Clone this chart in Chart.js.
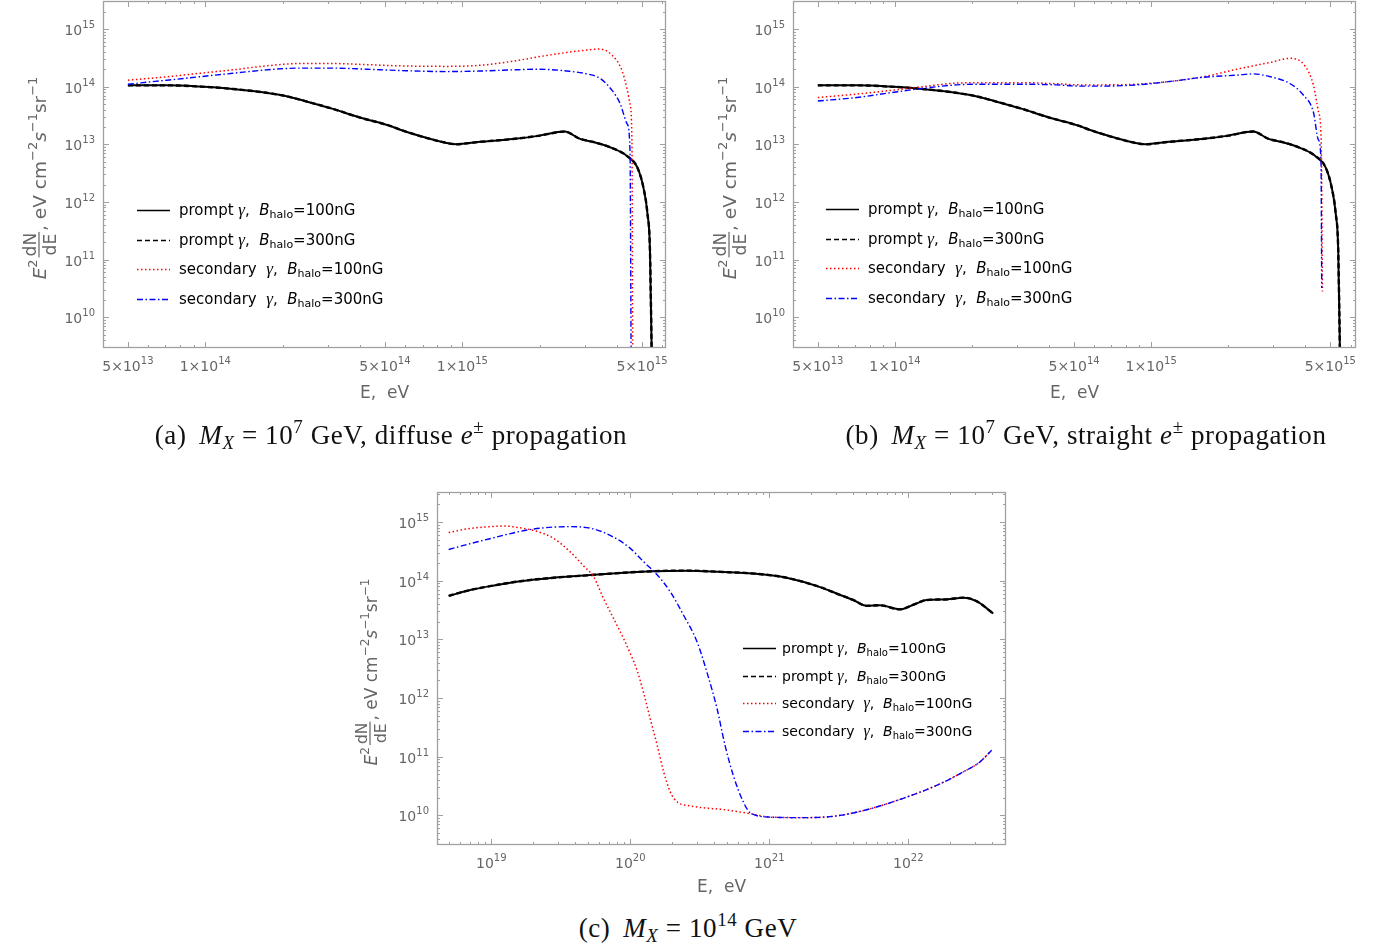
<!DOCTYPE html>
<html><head><meta charset="utf-8">
<script src="https://cdn.jsdelivr.net/npm/chart.js@4.4.1/dist/chart.umd.min.js"></script>
<style>
html,body{margin:0;padding:0;background:#fff;}
body{width:1385px;height:947px;position:relative;overflow:hidden;}
canvas{position:absolute;}
.cap{position:absolute;font-family:"Liberation Serif","Times New Roman",serif;font-size:27px;line-height:30px;letter-spacing:0.6px;color:#111;white-space:nowrap;text-align:center;}
.cap i{font-style:italic;}
.cap sub{font-size:70%;vertical-align:-0.28em;line-height:0;}
.cap sup{font-size:70%;vertical-align:0.6em;line-height:0;}
.cap .m{display:inline-block;width:0.2em;}
</style></head><body>
<canvas id="ca" width="690" height="420" style="left:0;top:0"></canvas>
<canvas id="cb" width="695" height="420" style="left:690px;top:0"></canvas>
<canvas id="cc" width="680" height="420" style="left:340px;top:480px"></canvas>
<div class="cap" style="left:91px;top:420px;width:600px">(a)<span class="m"></span> <i>M</i><sub><i>X</i></sub> = 10<sup>7</sup> GeV, diffuse <i>e</i><sup>±</sup> propagation</div>
<div class="cap" style="left:786px;top:420px;width:600px">(b)<span class="m"></span> <i>M</i><sub><i>X</i></sub> = 10<sup>7</sup> GeV, straight <i>e</i><sup>±</sup> propagation</div>
<div class="cap" style="left:388px;top:913px;width:600px">(c)<span class="m"></span> <i>M</i><sub><i>X</i></sub> = 10<sup>14</sup> GeV</div>
<script>
// ---------------- DATA ----------------
// Panels (a),(b): M_X = 1e7 GeV ; energies in eV, E^2 dN/dE in eV cm^-2 s^-1 sr^-1
// prompt photons (identical for 100nG and 300nG, same in (a) and (b))
const promptLowE   = [5.0e13,7.1e13,9.5e13,1.28e14,1.73e14,2.07e14,2.48e14,3.14e14,4.0e14,5.2e14,5.7e14,6.8e14,8.7e14,9.5e14,1.17e15,1.57e15,2.0e15,2.5e15,2.87e15,3.22e15,3.85e15,4.38e15,4.79e15,5.06e15,5.25e15,5.37e15,5.47e15];
const promptLow100 = [1.05e14,1.05e14,1.0e14,9.1e13,7.8e13,6.8e13,5.5e13,4.1e13,2.9e13,2.1e13,1.8e13,1.4e13,1.05e13,1.0e13,1.1e13,1.23e13,1.41e13,1.66e13,1.24e13,1.1e13,8.5e12,6.2e12,4.0e12,1.8e12,6.3e11,1.45e11,1e9];
const promptLow300 = [1.05e14,1.05e14,1.0e14,9.1e13,7.8e13,6.8e13,5.5e13,4.1e13,2.9e13,2.1e13,1.8e13,1.4e13,1.05e13,1.0e13,1.1e13,1.23e13,1.41e13,1.66e13,1.24e13,1.1e13,8.5e12,6.2e12,4.0e12,1.8e12,6.3e11,1.45e11,1e9];
// (a) diffuse e+- propagation, secondary photons
const secA100E = [5.0e13,7.1e13,9.5e13,1.28e14,1.73e14,2.33e14,3.14e14,4.25e14,5.7e14,8.7e14,1.17e15,1.57e15,2.13e15,2.87e15,3.44e15,3.85e15,4.18e15,4.38e15,4.49e15,4.57e15,4.6e15];
const secA100  = [1.29e14,1.48e14,1.7e14,1.95e14,2.29e14,2.51e14,2.51e14,2.4e14,2.29e14,2.24e14,2.34e14,2.75e14,3.47e14,4.17e14,4.47e14,3.39e14,1.9e14,8.9e13,5.0e13,1.1e13,1e9];
const secA300E = [5.0e13,7.1e13,9.5e13,1.28e14,1.73e14,2.33e14,3.14e14,4.25e14,5.7e14,8.7e14,1.17e15,1.57e15,2.0e15,2.55e15,3.05e15,3.44e15,3.8e15,4.1e15,4.38e15,4.49e15,4.54e15];
const secA300  = [1.1e14,1.29e14,1.48e14,1.7e14,1.95e14,2.09e14,2.09e14,2.0e14,1.9e14,1.82e14,1.86e14,1.95e14,2.0e14,1.86e14,1.66e14,1.38e14,8.9e13,5.2e13,2.24e13,7.9e12,1e9];
// (b) straight e+- propagation, secondary photons
const secB100E = [5.0e13,7.1e13,9.5e13,1.29e14,1.74e14,2.34e14,3.16e14,4.27e14,5.25e14,6.5e14,8.8e14,1.19e15,1.6e15,2.16e15,2.92e15,3.49e15,3.98e15,4.3e15,4.5e15,4.61e15,4.66e15];
const secB100  = [6.46e13,7.41e13,8.51e13,1.0e14,1.15e14,1.17e14,1.17e14,1.12e14,1.07e14,1.07e14,1.1e14,1.23e14,1.48e14,2.0e14,2.63e14,3.09e14,2.29e14,1.05e14,3.6e13,1.05e13,2.8e10];
const secB300E = [5.0e13,7.1e13,9.5e13,1.29e14,1.74e14,2.34e14,3.16e14,4.27e14,5.25e14,6.5e14,8.8e14,1.19e15,1.6e15,2.16e15,2.5e15,2.92e15,3.49e15,3.93e15,4.3e15,4.49e15,4.6e15,4.63e15];
const secB300  = [5.62e13,6.46e13,7.76e13,9.33e13,1.07e14,1.1e14,1.1e14,1.07e14,1.02e14,1.02e14,1.07e14,1.23e14,1.45e14,1.58e14,1.66e14,1.48e14,1.12e14,7.08e13,3.55e13,1.2e13,5.25e12,3.2e10];
// (c) M_X = 1e14 GeV
const promptHighE   = [4.94e18,7.06e18,1e19,1.62e19,2.81e19,4.88e19,8.47e19,1.47e20,2.56e20,4.42e20,7.67e20,1.33e21,2.32e21,3.05e21,4.02e21,5.02e21,6.25e21,8.71e21,1.09e22,1.36e22,1.89e22,2.49e22,3.1e22,4.09e22];
const promptHigh100 = [5.5e13,6.92e13,8.13e13,9.77e13,1.12e14,1.23e14,1.35e14,1.45e14,1.48e14,1.41e14,1.32e14,1.12e14,7.76e13,6.03e13,4.68e13,3.72e13,3.8e13,3.24e13,3.89e13,4.68e13,4.79e13,5.13e13,4.47e13,2.75e13];
const promptHigh300 = [5.5e13,6.92e13,8.13e13,9.77e13,1.12e14,1.23e14,1.35e14,1.45e14,1.48e14,1.41e14,1.32e14,1.12e14,7.76e13,6.03e13,4.68e13,3.72e13,3.8e13,3.24e13,3.89e13,4.68e13,4.79e13,5.13e13,4.47e13,2.75e13];
const secC100E = [4.94e18,7.06e18,1e19,1.23e19,1.62e19,2.13e19,2.81e19,3.7e19,4.62e19,5.46e19,6.44e19,7.6e19,8.97e19,1e20,1.12e20,1.25e20,1.39e20,1.56e20,1.74e20,1.94e20,2.17e20,2.7e20,4.97e20,7.26e20,1.01e21,1.76e21,3.05e21,5.3e21,9.2e21,1.6e22,2.49e22,3.28e22,3.98e22];
const secC100  = [6.61e14,7.76e14,8.32e14,8.51e14,7.94e14,6.92e14,5.25e14,3.09e14,1.78e14,1.15e14,4.9e13,2.24e13,1.02e13,5.75e12,2.95e12,1.2e12,4.47e11,1.58e11,5.5e10,2.51e10,1.7e10,1.45e10,1.23e10,1.07e10,9.33e9,9.12e9,9.77e9,1.29e10,1.95e10,3.24e10,5.5e10,8.13e10,1.29e11];
const secC300E = [4.94e18,7.06e18,1e19,1.62e19,2.38e19,3.7e19,5.46e19,7.6e19,1e20,1.25e20,1.56e20,1.94e20,2.42e20,3.02e20,3.56e20,4.21e20,4.8e20,5.51e20,6.5e20,7.26e20,1.01e21,1.76e21,3.05e21,5.3e21,9.2e21,1.6e22,2.49e22,3.28e22,3.98e22];
const secC300  = [3.39e14,4.27e14,5.25e14,6.92e14,7.94e14,8.32e14,7.59e14,5.5e14,3.55e14,2.09e14,1.26e14,6.46e13,2.57e13,9.12e12,2.75e12,6.61e11,1.58e11,4.79e10,1.7e10,1.12e10,9.33e9,9.12e9,9.77e9,1.29e10,1.95e10,3.24e10,5.5e10,8.13e10,1.29e11];

// tick labels
const abXTickValues = [5e13, 1e14, 5e14, 1e15, 5e15];
const abXTickLabels = [['5×10','13'],['1×10','14'],['5×10','14'],['1×10','15'],['5×10','15']];
const yTickValues   = [1e10, 1e11, 1e12, 1e13, 1e14, 1e15];
const yTickLabels   = [['10','10'],['10','11'],['10','12'],['10','13'],['10','14'],['10','15']];
const cXTickValues  = [1e19, 1e20, 1e21, 1e22];
const cXTickLabels  = [['10','19'],['10','20'],['10','21'],['10','22']];
const legendNames   = ['prompt', 'prompt', 'secondary ', 'secondary '];
const legendFields  = ['100nG', '300nG', '100nG', '300nG'];

// ---------------- STYLE ----------------
const SANS = '"DejaVu Sans", "Noto Sans", sans-serif';
const SERIF = '"Liberation Serif", "DejaVu Serif", serif';
const TICK_COLOR = '#666666';
const FRAME_COLOR = '#a0a0a0';
const STY = [
  {color:'#000000', width:2.0, dash:[], leg:1.4},
  {color:'#000000', width:2.4, dash:[5,3], leg:1.6},
  {color:'#ff0000', width:1.5, dash:[1.5,2.5], leg:1.3},
  {color:'#0000ff', width:1.4, dash:[6,2.5,1.5,2.5], leg:1.3}
];

function pts(E, V){ return E.map((e,i)=>({x:e, y:V[i]})); }

function supText(ctx, base, sup, x, y, align, bSize, sSize, rise, color){
  ctx.fillStyle = color;
  ctx.font = bSize+'px '+SANS; const wb = ctx.measureText(base).width;
  ctx.font = sSize+'px '+SANS; const ws = ctx.measureText(sup).width;
  const w = wb+ws;
  const x0 = align==='right' ? x-w : (align==='center' ? x-w/2 : x);
  ctx.textAlign='left'; ctx.textBaseline='alphabetic';
  ctx.font = bSize+'px '+SANS; ctx.fillText(base, x0, y);
  ctx.font = sSize+'px '+SANS; ctx.fillText(sup, x0+wb, y-rise);
}

function richText(ctx, segs, x, y){
  ctx.textAlign='left'; ctx.textBaseline='alphabetic';
  let cx = x;
  for (const s of segs){
    ctx.font = s.f; ctx.fillText(s.t, cx, y + (s.dy||0));
    cx += ctx.measureText(s.t).width;
  }
  return cx - x;
}
function richWidth(ctx, segs){
  let w=0; for (const s of segs){ ctx.font=s.f; w+=ctx.measureText(s.t).width; } return w;
}

function minorVals(min, max){
  const out=[]; const k0=Math.floor(Math.log10(min)), k1=Math.ceil(Math.log10(max));
  for (let k=k0;k<=k1;k++) for (let m=1;m<=9;m++){ const v=m*Math.pow(10,k); if (v>=min && v<=max) out.push(v); }
  return out;
}

function makePlugin(P){
  return {
    id:'frame'+P.key,
    afterDatasetsDraw(chart){
      const ctx=chart.ctx, a=chart.chartArea, xs=chart.scales.x, ys=chart.scales.y;
      ctx.save();
      // frame
      ctx.strokeStyle=FRAME_COLOR; ctx.lineWidth=1.3; ctx.setLineDash([]);
      ctx.strokeRect(a.left+0.5, a.top+0.5, a.right-a.left-1, a.bottom-a.top-1);
      ctx.lineWidth=1;
      // y ticks (both sides)
      for (const v of minorVals(ys.min, ys.max)){
        const y = Math.round(ys.getPixelForValue(v))+0.5;
        const major = Math.abs(Math.log10(v)-Math.round(Math.log10(v)))<1e-9;
        const L = major?6:3;
        ctx.beginPath(); ctx.moveTo(a.left,y); ctx.lineTo(a.left+L,y);
        ctx.moveTo(a.right,y); ctx.lineTo(a.right-L,y); ctx.stroke();
      }
      // x ticks (both sides)
      for (const v of minorVals(xs.min, xs.max)){
        const x = Math.round(xs.getPixelForValue(v))+0.5;
        const major = P.xTicks.some(t=>Math.abs(t-v)/t<1e-9);
        const L = major?6:3;
        ctx.beginPath(); ctx.moveTo(x,a.bottom); ctx.lineTo(x,a.bottom-L);
        ctx.moveTo(x,a.top); ctx.lineTo(x,a.top+L); ctx.stroke();
      }
      // y tick labels
      yTickValues.forEach((v,i)=>{
        if (v<ys.min||v>ys.max) return;
        const y = ys.getPixelForValue(v);
        supText(ctx, yTickLabels[i][0], yTickLabels[i][1], a.left-8, y+6, 'right', 14, 10, 7, TICK_COLOR);
      });
      // x tick labels
      P.xTicks.forEach((v,i)=>{
        const x = xs.getPixelForValue(v);
        supText(ctx, P.xLabels[i][0], P.xLabels[i][1], x, a.bottom+P.xLabelDy, 'center', 14, 10, 7, TICK_COLOR);
      });
      // x title
      ctx.fillStyle=TICK_COLOR; ctx.font='17px '+SANS; ctx.textAlign='center'; ctx.textBaseline='alphabetic';
      ctx.fillText('E,  eV', (a.left+a.right)/2, a.bottom+P.xTitleDy);
      // y title (rotated)
      ctx.save();
      ctx.translate(P.yTitleX, (a.top+a.bottom)/2 + P.yTitleShift);
      ctx.rotate(-Math.PI/2);
      const T=P.titleSize, FS=P.fracSize, SS=Math.round(T*0.7);
      const big=T+'px '+SANS, bigI='italic '+T+'px '+SANS, sm=SS+'px '+SANS, fr=FS+'px '+SANS;
      const up=-Math.round(T*0.48);
      const pre=[{t:'E',f:bigI},{t:'2',f:sm,dy:up}];
      const post=[{t:', eV cm',f:big},{t:'−2',f:sm,dy:up},{t:'s',f:bigI},{t:'−1',f:sm,dy:up},{t:'sr',f:big},{t:'−1',f:sm,dy:up}];
      ctx.font=fr; const wN=ctx.measureText('dN').width, wD=ctx.measureText('dE').width;
      const fw=Math.max(wN,wD)+4;
      const wPre=richWidth(ctx,pre), wPost=richWidth(ctx,post);
      const total=wPre+fw+wPost;
      const x0=-total/2;
      ctx.fillStyle=TICK_COLOR;
      richText(ctx, pre, x0, 6);
      const fx=x0+wPre+1;
      ctx.font=fr; ctx.textAlign='center';
      ctx.fillText('dN', fx+fw/2, -4);
      ctx.fillText('dE', fx+fw/2, Math.round(FS*0.95));
      ctx.fillRect(fx+1, -1.6, fw-2, 1.2);
      richText(ctx, post, fx+fw, 6);
      ctx.restore();
      // legend
      const L=P.legSize;
      for (let i=0;i<4;i++){
        const y=P.legY[i], s=STY[i];
        ctx.strokeStyle=s.color; ctx.lineWidth=s.leg; ctx.setLineDash(s.dash);
        ctx.beginPath(); ctx.moveTo(P.legX0, y+0.5); ctx.lineTo(P.legX1, y+0.5); ctx.stroke();
        ctx.setLineDash([]);
        ctx.fillStyle='#000';
        const segs=[{t:legendNames[i]+' ',f:L+'px '+SANS},{t:'γ',f:'italic '+(L+2)+'px '+SERIF},{t:',  ',f:L+'px '+SANS},
          {t:'B',f:'italic '+L+'px '+SANS},{t:'halo',f:(L-4)+'px '+SANS,dy:3},{t:'='+legendFields[i],f:L+'px '+SANS}];
        richText(ctx, segs, P.legTX, y+5);
      }
      ctx.restore();
    }
  };
}

function makePanel(P){
  const ds = [
    {data:pts(P.s300E,P.s300), style:STY[3]},
    {data:pts(P.s100E,P.s100), style:STY[2]},
    {data:pts(P.p300E,P.p300), style:STY[1]},
    {data:pts(P.p100E,P.p100), style:STY[0]}
  ].map(d=>({data:d.data, borderColor:d.style.color, borderWidth:d.style.width, borderDash:d.style.dash,
      pointRadius:0, fill:false, cubicInterpolationMode:'monotone', borderCapStyle:'butt', borderJoinStyle:'round'}));
  new Chart(document.getElementById(P.canvas), {
    type:'line',
    data:{datasets:ds},
    options:{
      responsive:false, animation:false, parsing:false,
      layout:{padding:P.pad},
      plugins:{legend:{display:false}, tooltip:{enabled:false}},
      scales:{
        x:{type:'logarithmic', min:P.xmin, max:P.xmax, display:false, bounds:'data'},
        y:{type:'logarithmic', min:P.ymin, max:P.ymax, display:false, bounds:'data'}
      }
    },
    plugins:[makePlugin(P)]
  });
}

makePanel({key:'a', canvas:'ca', pad:{left:103,top:1,right:24,bottom:72},
  xmin:4.0e13, xmax:6.2e15, ymin:2.92e9, ymax:3.05e15,
  p100E:promptLowE, p100:promptLow100, p300E:promptLowE, p300:promptLow300,
  s100E:secA100E, s100:secA100, s300E:secA300E, s300:secA300,
  xTicks:abXTickValues, xLabels:abXTickLabels, xLabelDy:23, xTitleDy:50,
  yTitleX:40, yTitleShift:4, titleSize:18.5, fracSize:17, legSize:15,
  legX0:137, legX1:170, legTX:179, legY:[210,240,269,299]});
makePanel({key:'b', canvas:'cb', pad:{left:103,top:1,right:29,bottom:72},
  xmin:4.0e13, xmax:6.3e15, ymin:2.92e9, ymax:3.05e15,
  p100E:promptLowE, p100:promptLow100, p300E:promptLowE, p300:promptLow300,
  s100E:secB100E, s100:secB100, s300E:secB300E, s300:secB300,
  xTicks:abXTickValues, xLabels:abXTickLabels, xLabelDy:23, xTitleDy:50,
  yTitleX:40, yTitleShift:4, titleSize:18.5, fracSize:17, legSize:15,
  legX0:136, legX1:169, legTX:178, legY:[209,239,268,298]});
makePanel({key:'c', canvas:'cc', pad:{left:97,top:12,right:14,bottom:55},
  xmin:4.07e18, xmax:5.05e22, ymin:3.12e9, ymax:3.24e15,
  p100E:promptHighE, p100:promptHigh100, p300E:promptHighE, p300:promptHigh300,
  s100E:secC100E, s100:secC100, s300E:secC300E, s300:secC300,
  xTicks:cXTickValues, xLabels:cXTickLabels, xLabelDy:23, xTitleDy:47,
  yTitleX:31, yTitleShift:4, titleSize:17, fracSize:15.5, legSize:14,
  legX0:403, legX1:436, legTX:442, legY:[168,196,223,251]});
</script>
</body></html>
